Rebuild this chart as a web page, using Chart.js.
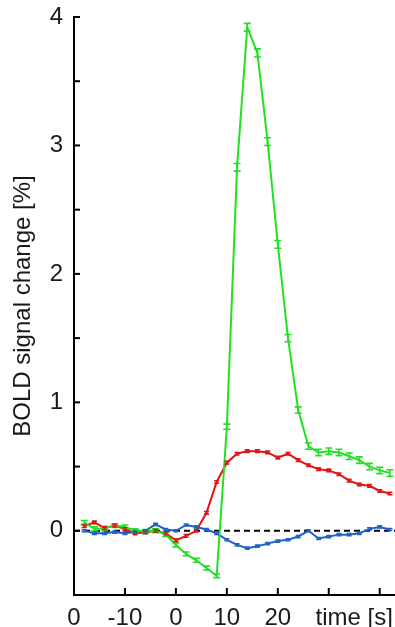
<!DOCTYPE html>
<html>
<head>
<meta charset="utf-8">
<script src="https://cdn.jsdelivr.net/npm/chart.js@4.4.1/dist/chart.umd.min.js"></script>
<style>
  body { margin: 0; background: #fff; }
  #wrap { width: 395px; height: 627px; }
</style>
</head>
<body>
<div id="wrap"><canvas id="boldChart"></canvas></div>
<script>
// time of each sample (s)
const timePoints = [-18, -16, -14, -12, -10, -8, -6, -4, -2, 0, 2, 4, 6, 8, 10, 12,
                    14, 16, 18, 20, 22, 24, 26, 28, 30, 32, 34, 36, 38, 40, 42];

// BOLD signal change [%] per condition
const greenValues = [0.065, 0.015, 0.02, 0.04, 0.03, 0.0, -0.005, 0.0, -0.03, -0.11, -0.18, -0.23, -0.29, -0.35, 0.81, 2.83,
                     3.92, 3.72, 3.03, 2.23, 1.50, 0.94, 0.66, 0.61, 0.62, 0.61, 0.58, 0.55, 0.50, 0.47, 0.45];
const greenErrors = [0.015, 0.015, 0.015, 0.015, 0.015, 0.015, 0.015, 0.015, 0.015, 0.015, 0.015, 0.015, 0.015, 0.015, 0.02, 0.03,
                     0.03, 0.032, 0.03, 0.03, 0.028, 0.025, 0.025, 0.025, 0.025, 0.025, 0.025, 0.025, 0.025, 0.025, 0.025];

const redValues = [0.035, 0.065, 0.02, 0.04, 0.013, -0.02, -0.013, 0.0, -0.02, -0.075, -0.04, 0.0, 0.14, 0.38, 0.53, 0.60,
                   0.62, 0.62, 0.61, 0.57, 0.60, 0.55, 0.51, 0.48, 0.47, 0.44, 0.39, 0.36, 0.35, 0.31, 0.29];
const redErrors = new Array(timePoints.length).fill(0.01);

const blueValues = [0.0, -0.02, -0.02, -0.01, -0.02, -0.01, 0.0, 0.05, 0.01, 0.0, 0.045, 0.03, 0.01, -0.02, -0.07, -0.11,
                    -0.135, -0.12, -0.10, -0.08, -0.07, -0.045, 0.0, -0.06, -0.045, -0.03, -0.03, -0.02, 0.015, 0.03, 0.01];
const blueErrors = new Array(timePoints.length).fill(0.008);

// x tick labels (the figure shows "0" at the axis origin and the axis name in place of 30/40)
const xTickLabels = { '-20': '0', '-10': '-10', '0': '0', '10': '10', '20': '20', '35': 'time [s]' };

const FONT = { family: 'Arial, "Liberation Sans", sans-serif', size: 24 };

function toPoints(values) {
    return values.map((v, i) => ({ x: timePoints[i], y: v }));
}

// short ticks pointing into the plot, like the original figure
const innerTicks = {
    id: 'innerTicks',
    afterDraw(chart) {
        const { ctx, chartArea, scales } = chart;
        ctx.save();
        ctx.strokeStyle = '#000';
        ctx.lineWidth = 2;
        scales.x.ticks.forEach(t => {
            if (t.value % 10 !== 0 || t.value === -20) return;
            const px = scales.x.getPixelForValue(t.value);
            ctx.beginPath();
            ctx.moveTo(px, chartArea.bottom);
            ctx.lineTo(px, chartArea.bottom - 7);
            ctx.stroke();
        });
        scales.y.ticks.forEach(t => {
            if (t.value === -0.5) return;
            const py = scales.y.getPixelForValue(t.value);
            ctx.beginPath();
            ctx.moveTo(chartArea.left, py);
            ctx.lineTo(chartArea.left + 6, py);
            ctx.stroke();
        });
        ctx.restore();
    }
};

// vertical error bars with caps
const errorBars = {
    id: 'errorBars',
    afterDatasetsDraw(chart) {
        const { ctx, scales } = chart;
        ctx.save();
        chart.data.datasets.forEach(ds => {
            if (!ds.errors) return;
            ctx.strokeStyle = ds.borderColor;
            ctx.lineWidth = 1.6;
            const cap = ds.capWidth / 2;
            ds.data.forEach((p, i) => {
                const px = scales.x.getPixelForValue(p.x);
                const top = scales.y.getPixelForValue(p.y + ds.errors[i]);
                const bot = scales.y.getPixelForValue(p.y - ds.errors[i]);
                ctx.beginPath();
                ctx.moveTo(px, top); ctx.lineTo(px, bot);
                ctx.moveTo(px - cap, top); ctx.lineTo(px + cap, top);
                ctx.moveTo(px - cap, bot); ctx.lineTo(px + cap, bot);
                ctx.stroke();
            });
        });
        ctx.restore();
    }
};

new Chart(document.getElementById('boldChart'), {
    type: 'line',
    data: {
        datasets: [
            {
                data: toPoints(greenValues),
                errors: greenErrors,
                capWidth: 7,
                borderColor: '#22e022',
                borderWidth: 2,
                pointRadius: 0,
                tension: 0
            },
            {
                data: toPoints(redValues),
                errors: redErrors,
                capWidth: 5,
                borderColor: '#e01414',
                borderWidth: 2,
                pointRadius: 0,
                tension: 0
            },
            {
                data: toPoints(blueValues),
                errors: blueErrors,
                capWidth: 5,
                borderColor: '#1f62c8',
                borderWidth: 2,
                pointRadius: 0,
                tension: 0
            },
            {
                // zero reference line
                data: [{ x: -20, y: 0 }, { x: 43, y: 0 }],
                borderColor: '#000',
                borderWidth: 2,
                borderDash: [6, 4],
                pointRadius: 0
            }
        ]
    },
    options: {
        responsive: true,
        maintainAspectRatio: false,
        animation: false,
        layout: { padding: { top: 17, right: 0, left: 0, bottom: 0 } },
        plugins: {
            legend: { display: false },
            tooltip: { enabled: false }
        },
        scales: {
            x: {
                type: 'linear',
                min: -20,
                max: 43,
                border: { display: true, color: '#000', width: 2 },
                grid: { drawOnChartArea: false, drawTicks: false },
                ticks: {
                    stepSize: 5,
                    includeBounds: false,
                    autoSkip: false,
                    maxRotation: 0,
                    padding: 9,
                    color: '#1a1a1a',
                    font: FONT,
                    callback: v => xTickLabels[String(v)] || ''
                },
                afterFit: scale => {
                    scale.height = 32;
                    scale.paddingLeft = 0;
                    scale.paddingRight = 0;
                }
            },
            y: {
                min: -0.5,
                max: 4,
                border: { display: true, color: '#000', width: 2 },
                grid: { drawOnChartArea: false, drawTicks: false },
                ticks: {
                    stepSize: 0.5,
                    includeBounds: false,
                    padding: 11,
                    color: '#1a1a1a',
                    font: FONT,
                    callback: v => Number.isInteger(v) ? v : ''
                },
                title: {
                    display: true,
                    text: 'BOLD signal change [%]',
                    color: '#1a1a1a',
                    font: FONT,
                    padding: { top: 9, bottom: 0 }
                },
                afterFit: scale => {
                    scale.width = 74;
                    scale.paddingTop = 0;
                    scale.paddingBottom = 0;
                }
            }
        }
    },
    plugins: [innerTicks, errorBars]
});
</script>
</body>
</html>
